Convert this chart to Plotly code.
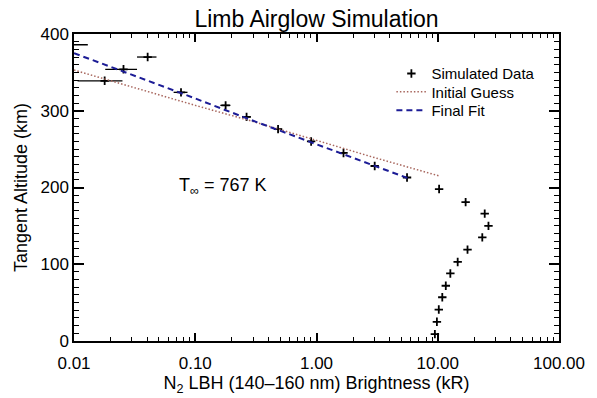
import plotly.graph_objects as go

# Simulated data (brightness in kR, tangent altitude in km)
data_alt = [386, 370, 354, 339, 324, 307, 292, 276, 260, 245, 228, 213, 198,
            181, 166, 150, 135, 119, 103, 88, 72, 57, 41, 25, 9]
data_bright = [0.007, 0.0405, 0.0256, 0.0179, 0.0763, 0.178, 0.265, 0.482, 0.903, 1.67,
               3.02, 5.58, 10.26, 16.98, 24.4, 26.2, 23.3, 17.6, 14.6, 12.7, 11.65,
               10.9, 10.2, 9.84, 9.47]
data_err = [0.006, 0.0074, 0.0075, 0.0072, 0.0100, 0.017, 0.022, 0.035, 0.05, 0.07,
            0.10, 0.15, 0.2, 0.3, 0.4, 0.4, 0.4, 0.3, 0.3, 0.25, 0.2, 0.2, 0.2, 0.2, 0.2]

# Initial guess model curve
guess_bright = [0.01, 0.03, 0.1, 0.3, 1.0, 3.0, 10.3]
guess_alt = [353, 331, 307, 286, 261, 239, 215]

# Final fit model curve
fit_bright = [0.01, 0.03, 0.1, 0.3, 1.0, 3.0, 5.7]
fit_alt = [375, 347, 316, 287, 256, 228, 212]

x_tickvals = [0.01, 0.1, 1, 10, 100]
x_ticktext = ["0.01", "0.10", "1.00", "10.00", "100.00"]
y_tickvals = [0, 100, 200, 300, 400]

FONT = "Liberation Sans, Arial, Helvetica, sans-serif"
W, H = 597, 398
L, R, T, B = 74, 34, 34, 55

fig = go.Figure()
fig.add_trace(go.Scatter(
    x=data_bright, y=data_alt, mode="markers", name="Simulated Data",
    marker=dict(symbol="cross-thin", size=6, color="black",
                line=dict(color="black", width=1.8)),
    error_x=dict(type="data", array=data_err, visible=True, color="black",
                 thickness=1.3, width=0),
    legend="legend",
))
fig.add_trace(go.Scatter(
    x=guess_bright, y=guess_alt, mode="lines", name="Initial Guess",
    line=dict(color="#a8675e", width=1.5, dash="1.5px,2px"),
    legend="legend2",
))
fig.add_trace(go.Scatter(
    x=fit_bright, y=fit_alt, mode="lines", name="Final Fit",
    line=dict(color="#1c1c96", width=2, dash="6px,4px"),
    legend="legend3",
))

def ypaper(py):
    return (H - B - py) / (H - T - B)

leg_common = dict(x=(394 - L) / (W - L - R), xanchor="left", yanchor="middle",
                  bgcolor="rgba(0,0,0,0)", font=dict(family=FONT, size=15, color="black"),
                  borderwidth=0)

fig.update_layout(
    width=W, height=H,
    margin=dict(l=L, r=R, t=T, b=B),
    paper_bgcolor="white", plot_bgcolor="white",
    font=dict(family=FONT, size=17, color="black"),
    title=dict(text="Limb Airglow Simulation", x=0.5, xref="paper", xanchor="center",
               y=1 - 19 / H, yref="container", yanchor="middle",
               font=dict(family=FONT, size=23, color="black")),
    showlegend=True,
    legend=dict(y=ypaper(74), **leg_common),
    legend2=dict(y=ypaper(92.5), **leg_common),
    legend3=dict(y=ypaper(111), **leg_common),
    xaxis=dict(
        type="log", range=[-2, 2],
        tickvals=x_tickvals, ticktext=x_ticktext,
        ticks="inside", ticklen=8, tickwidth=1.5, tickcolor="black",
        ticklabelstandoff=6,
        showline=True, linecolor="black", linewidth=1.5, mirror="allticks",
        showgrid=False, zeroline=False,
        minor=dict(ticks="inside", ticklen=4, tickwidth=1.2, tickcolor="black",
                   dtick="D1", showgrid=False),
        tickfont=dict(family=FONT, size=17, color="black"),
        title=dict(text="N<sub>2</sub> LBH (140\u2013160 nm) Brightness (kR)",
                   font=dict(family=FONT, size=18, color="black"), standoff=0),
    ),
    yaxis=dict(
        range=[0, 400],
        tickvals=y_tickvals,
        ticks="inside", ticklen=10, tickwidth=1.5, tickcolor="black",
        showline=True, linecolor="black", linewidth=1.5, mirror="allticks",
        showgrid=False, zeroline=False,
        minor=dict(ticks="inside", ticklen=5, tickwidth=1.2, tickcolor="black",
                   dtick=10, showgrid=False),
        tickfont=dict(family=FONT, size=17, color="black"),
        title=dict(text="Tangent Altitude (km)",
                   font=dict(family=FONT, size=18, color="black"), standoff=8),
    ),
    annotations=[dict(
        text="T<sub>\u221e</sub> = 767 K", xref="paper", yref="paper",
        x=(224 - L) / (W - L - R), y=ypaper(187), xanchor="center", yanchor="middle",
        showarrow=False, font=dict(family=FONT, size=18, color="black"),
    )],
)

fig.write_html("out.html")
